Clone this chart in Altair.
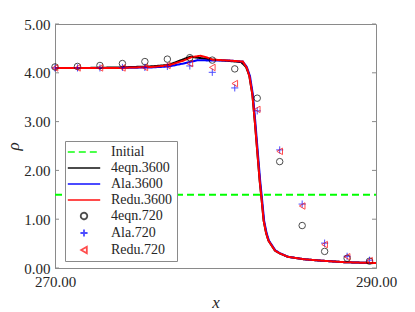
import altair as alt
import pandas as pd

# ---------------- data ----------------
series_names = ["Initial", "4eqn.3600", "Ala.3600", "Redu.3600", "4eqn.720", "Ala.720", "Redu.720"]
series_colors = ["#00ff00", "#000000", "#0000ff", "#ff0000", "#000000", "#0000ff", "#ff0000"]

init_x = [270.0, 290.0]
init_rho = [1.5, 1.5]

eqn4_x = [270, 272, 274, 275.9, 277.07, 278.42, 279.8, 280.9, 281.6, 281.9, 282.1, 282.3, 282.45,
          282.6, 282.75, 282.88, 283.0, 283.15, 283.3, 283.7, 284.0, 284.5, 285.5, 286.6, 288.0, 289.0, 290.0]
eqn4_rho = [4.10, 4.10, 4.11, 4.13, 4.16, 4.33, 4.27, 4.24, 4.22, 4.12, 3.95, 3.55, 3.00,
            2.40, 1.80, 1.38, 0.97, 0.72, 0.56, 0.36, 0.30, 0.23, 0.18, 0.15, 0.12, 0.11, 0.10]

ala_x = [270, 272, 274, 276, 277.07, 278.0, 278.9, 279.8, 280.9, 281.7, 281.95, 282.15, 282.33, 282.48,
         282.63, 282.78, 282.91, 283.03, 283.18, 283.33, 283.73, 284.03, 284.5, 285.5, 286.6, 288.0, 289.0, 290.0]
ala_rho = [4.10, 4.10, 4.10, 4.11, 4.13, 4.19, 4.26, 4.25, 4.25, 4.23, 4.12, 3.93, 3.55, 3.00,
           2.40, 1.80, 1.38, 0.97, 0.72, 0.56, 0.36, 0.30, 0.23, 0.18, 0.15, 0.12, 0.11, 0.10]

redu_x = [270, 272, 274, 276, 277.07, 278.0, 278.5, 279.05, 279.5, 279.8, 280.9, 281.7, 281.95, 282.12,
          282.3, 282.45, 282.6, 282.75, 282.88, 283.0, 283.15, 283.3, 283.7, 284.0, 284.5, 285.5, 286.6, 288.0, 289.0, 290.0]
redu_rho = [4.10, 4.10, 4.10, 4.12, 4.15, 4.25, 4.32, 4.35, 4.31, 4.27, 4.25, 4.23, 4.10, 3.92,
            3.55, 3.00, 2.40, 1.80, 1.38, 0.97, 0.72, 0.56, 0.36, 0.30, 0.23, 0.18, 0.15, 0.12, 0.11, 0.10]

coarse_x = [270.0, 271.4, 272.8, 274.2, 275.6, 277.0, 278.4, 279.8, 281.2, 282.6, 284.0, 285.4, 286.8, 288.2, 289.6]
eqn4_720 = [4.12, 4.13, 4.15, 4.19, 4.23, 4.28, 4.31, 4.26, 4.08, 3.48, 2.18, 0.87, 0.34, 0.20, 0.14]
ala_720 = [4.10, 4.10, 4.10, 4.11, 4.11, 4.13, 4.14, 4.01, 3.69, 3.22, 2.42, 1.31, 0.51, 0.24, 0.16]
redu_720 = [4.10, 4.10, 4.10, 4.10, 4.11, 4.15, 4.19, 4.11, 3.78, 3.25, 2.39, 1.27, 0.48, 0.23, 0.15]

y_ticks = [0, 1, 2, 3, 4, 5]
x_ticks = [270, 290]

# ---------------- tables ----------------
def frame(name, xs, ys):
    return pd.DataFrame({"x": xs, "rho": ys, "series": name})

df = pd.concat([
    frame("Initial", init_x, init_rho),
    frame("4eqn.3600", eqn4_x, eqn4_rho),
    frame("Ala.3600", ala_x, ala_rho),
    frame("Redu.3600", redu_x, redu_rho),
    frame("4eqn.720", coarse_x, eqn4_720),
    frame("Ala.720", coarse_x, ala_720),
    frame("Redu.720", coarse_x, redu_720),
], ignore_index=True)

W, H = 321, 244
FONT = "Liberation Serif"
GRAY = "#8a8a8a"

line_sym = "M-5,0H5"
plus_sym = "M-1.1,0H1.1M0,-1.1V1.1"
shapes = [line_sym, line_sym, line_sym, line_sym, "circle", plus_sym, "triangle-left"]
dashes = [[7, 4], [1, 0], [1, 0], [1, 0], [1, 0], [1, 0], [1, 0]]

xscale = alt.Scale(domain=[270, 290], nice=False, zero=False)
yscale = alt.Scale(domain=[0, 5], nice=False, zero=False)

xax = alt.Axis(values=x_ticks, format=".2f", labelFlush=False, ticks=False, grid=False,
               title="x", titleFontStyle="italic", titleFontWeight="normal", titlePadding=5,
               labelPadding=6)
yax = alt.Axis(values=y_ticks, format=".2f", labelFlush=False, ticks=False, grid=False,
               title="ρ", titleFontStyle="italic", titleFontWeight="normal", titlePadding=1,
               labelPadding=5)

color_enc = alt.Color("series:N", scale=alt.Scale(domain=series_names, range=series_colors),
                      legend=alt.Legend(title=None))
shape_enc = alt.Shape("series:N", scale=alt.Scale(domain=series_names, range=shapes),
                      legend=alt.Legend(title=None))
dash_enc = alt.StrokeDash("series:N", scale=alt.Scale(domain=series_names, range=dashes),
                          legend=alt.Legend(title=None))

base = alt.Chart(df)

def line_layer(name):
    return base.transform_filter(alt.datum.series == name).mark_line(strokeWidth=2).encode(
        x=alt.X("x:Q", scale=xscale, axis=xax),
        y=alt.Y("rho:Q", scale=yscale, axis=yax),
        color=color_enc,
        strokeDash=dash_enc,
        order=alt.Order("x:Q"),
    )

def point_layer(name):
    return base.transform_filter(alt.datum.series == name).mark_point(
        filled=False, size=42, strokeWidth=1).encode(
        x=alt.X("x:Q", scale=xscale, axis=xax),
        y=alt.Y("rho:Q", scale=yscale, axis=yax),
        color=color_enc,
        shape=shape_enc,
    )

ticks_df = pd.DataFrame({"t": y_ticks})
tick_left = alt.Chart(ticks_df).mark_rule(color=GRAY, strokeWidth=1).encode(
    y=alt.Y("t:Q", scale=yscale, axis=yax), x=alt.value(0), x2=alt.value(4))
tick_right = alt.Chart(ticks_df).mark_rule(color=GRAY, strokeWidth=1).encode(
    y=alt.Y("t:Q", scale=yscale, axis=yax), x=alt.value(W - 4), x2=alt.value(W))

chart = alt.layer(
    tick_left, tick_right,
    line_layer("Initial"),
    line_layer("4eqn.3600"),
    line_layer("Ala.3600"),
    line_layer("Redu.3600"),
    point_layer("4eqn.720"),
    point_layer("Ala.720"),
    point_layer("Redu.720"),
).properties(
    width=W, height=H,
    autosize=alt.AutoSizeParams(type="none"),
    padding={"left": 47, "top": 16, "right": 25, "bottom": 44},
).configure_view(
    stroke=GRAY, strokeWidth=1
).configure_axis(
    domainColor=GRAY, domainWidth=1,
    labelFont=FONT, labelFontSize=15, labelColor="#262626",
    titleFont=FONT, titleFontSize=17, titleColor="#262626",
).configure_legend(
    orient="none", legendX=10, legendY=117,
    fillColor="white", strokeColor=GRAY, padding=4,
    labelFont=FONT, labelFontSize=14, labelColor="#262626",
    symbolSize=42, symbolOffset=8, labelOffset=20, rowPadding=2,
    symbolStrokeWidth=1.8, cornerRadius=0,
)

chart.save("out.html", embed_options={"renderer": "svg", "actions": False})
